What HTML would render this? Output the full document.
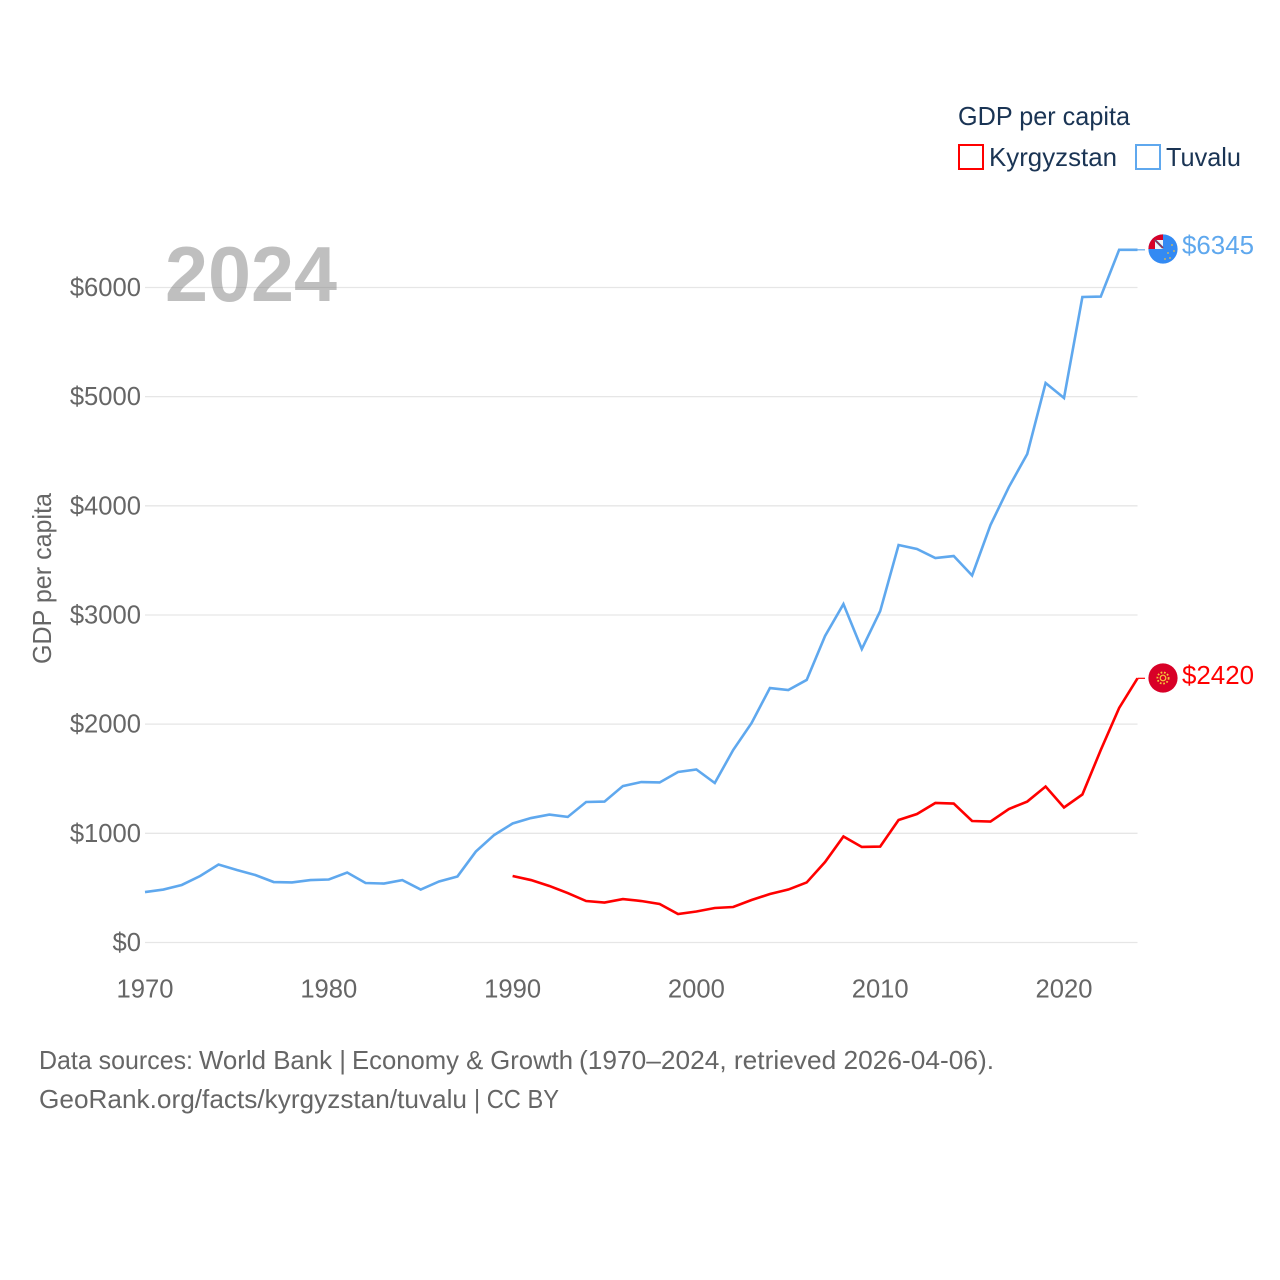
<!DOCTYPE html>
<html lang="en">
<head>
<meta charset="utf-8">
<title>GDP per capita: Kyrgyzstan and Tuvalu</title>
<style>
html,body{margin:0;padding:0;background:#fff;width:1280px;height:1280px;overflow:hidden}
svg{display:block;font-family:"Liberation Sans",sans-serif}
</style>
</head>
<body>
<svg id="chart" width="1280" height="1280" viewBox="0 0 1280 1280" xmlns="http://www.w3.org/2000/svg">
  <rect width="1280" height="1280" fill="#fff"/>
  <g id="grid"></g>
  <g id="yticks"></g>
  <g id="xticks"></g>
  <text x="165" y="301" font-size="78" font-weight="700" fill="#808080" fill-opacity="0.5" textLength="172" lengthAdjust="spacingAndGlyphs">2024</text>
  <text transform="translate(51,664) rotate(-90)" font-size="25.6" fill="#666" textLength="171" lengthAdjust="spacingAndGlyphs">GDP per capita</text>
  <g id="series"></g>

  <g>
    <clipPath id="tv-clip"><circle cx="1163" cy="249" r="14.6"/></clipPath>
    <g clip-path="url(#tv-clip)">
      <rect x="1148" y="234" width="30" height="30" fill="#338af3"/>
      <rect x="1148" y="234" width="15" height="15" fill="#d80027"/>
      <rect x="1155" y="240" width="8" height="9" fill="#eef3f8"/>
      <path d="M1155 240 L1163 248" stroke="#3f6f9c" stroke-width="2.2"/>
      <path d="M1155 240 L1163 248" stroke="#d80027" stroke-width="0.8"/>
      <g fill="#e8c04a">
        <circle cx="1172" cy="245" r="0.9"/><circle cx="1174" cy="251" r="0.9"/>
        <circle cx="1168" cy="253" r="0.9"/><circle cx="1170" cy="258" r="0.9"/>
        <circle cx="1165" cy="259" r="0.9"/>
      </g>
    </g>
  </g>
  <g>
    <circle cx="1163" cy="678" r="14.6" fill="#d80027"/>
    <circle cx="1163" cy="678" r="2.8" fill="none" stroke="#f5c93a" stroke-width="1.2"/>
    <circle cx="1163" cy="678" r="5.6" fill="none" stroke="#f5c93a" stroke-width="1.8" stroke-dasharray="1.7 1.7"/>
  </g>

  <text x="1182" y="254" font-size="25.6" fill="#5fa8ee" textLength="72" lengthAdjust="spacingAndGlyphs">$6345</text>
  <text x="1182" y="684" font-size="25.6" fill="#ff0000" textLength="72" lengthAdjust="spacingAndGlyphs">$2420</text>

  <g>
    <text x="958" y="125" font-size="25.6" fill="#1a3454" textLength="172" lengthAdjust="spacingAndGlyphs">GDP per capita</text>
    <g>
      <rect x="959" y="145" width="24" height="24" fill="#fff" stroke="#ff0000" stroke-width="2"/>
      <text x="989" y="166" font-size="25.6" fill="#1a3454" textLength="128" lengthAdjust="spacingAndGlyphs">Kyrgyzstan</text>
    </g>
    <g>
      <rect x="1136" y="145" width="24" height="24" fill="#fff" stroke="#5fa8ee" stroke-width="2"/>
      <text x="1166" y="166" font-size="25.6" fill="#1a3454" textLength="75" lengthAdjust="spacingAndGlyphs">Tuvalu</text>
    </g>
  </g>

  <text y="1069" font-size="25.6" fill="#666"><tspan x="39" textLength="154" lengthAdjust="spacingAndGlyphs">Data sources:</tspan> <tspan x="199" textLength="147" lengthAdjust="spacingAndGlyphs">World Bank |</tspan> <tspan x="352" textLength="221" lengthAdjust="spacingAndGlyphs">Economy &amp; Growth</tspan> <tspan x="579" textLength="415" lengthAdjust="spacingAndGlyphs">(1970–2024, retrieved 2026-04-06).</tspan></text>
  <text y="1108" font-size="25.6" fill="#666"><tspan x="39" textLength="428" lengthAdjust="spacingAndGlyphs">GeoRank.org/facts/kyrgyzstan/tuvalu</tspan> <tspan x="474" textLength="85" lengthAdjust="spacingAndGlyphs">| CC BY</tspan></text>
</svg>
<script>
var yearStart = 1970;
var yearTicks = [1970, 1980, 1990, 2000, 2010, 2020];
var valueTicks = [0, 1000, 2000, 3000, 4000, 5000, 6000];
var tuvaluValues = [462, 485, 527, 609, 714, 664, 618, 554, 550, 572, 577, 641, 545, 540, 572, 485, 559, 605, 833, 985, 1090, 1140, 1172, 1150, 1287, 1291, 1433, 1470, 1466, 1562, 1585, 1461, 1763, 2010, 2331, 2313, 2405, 2808, 3100, 2688, 3036, 3641, 3605, 3522, 3540, 3362, 3824, 4172, 4475, 5125, 4988, 5913, 5917, 6345, 6345];
var kyrgyzstanStartYear = 1990;
var kyrgyzstanValues = [609, 572, 518, 453, 380, 366, 398, 380, 353, 261, 284, 316, 325, 389, 444, 485, 550, 737, 971, 875, 879, 1122, 1177, 1278, 1273, 1113, 1108, 1223, 1291, 1429, 1237, 1356, 1763, 2148, 2420];

var NS = 'http://www.w3.org/2000/svg';
function xScale(year) { return 145 + (year - 1970) * 18.38; }
function yScale(value) { return 942.5 - value * 0.10917; }
function make(tag, parent, attrs) {
  var el = document.createElementNS(NS, tag);
  for (var k in attrs) el.setAttribute(k, attrs[k]);
  parent.appendChild(el);
  return el;
}

var grid = document.getElementById('grid');
var yticks = document.getElementById('yticks');
var xticks = document.getElementById('xticks');
var series = document.getElementById('series');

valueTicks.forEach(function (v) {
  var line = make('line', grid, { x1: xScale(1970), x2: xScale(2024), y1: yScale(v), y2: yScale(v), stroke: '#e6e6e6', 'stroke-width': 1.3 });
  
  
  var label = make('text', yticks, { x: 141, y: yScale(v) + 8.5, 'font-size': 25.6, fill: '#666', 'text-anchor': 'end' });
  
  
  label.textContent = '$' + v;
});

yearTicks.forEach(function (y) {
  var label = make('text', xticks, { x: xScale(y), y: 997.5, 'font-size': 25.6, fill: '#666', 'text-anchor': 'middle' });
  
  
  label.textContent = y;
});

function points(values, startYear) {
  return values.map(function (v, i) {
    return xScale(startYear + i).toFixed(2) + ',' + yScale(v).toFixed(2);
  }).join(' ');
}

var tuvaluLine = make('polyline', series, { points: points(tuvaluValues, yearStart), fill: 'none', stroke: '#5fa8ee', 'stroke-width': 2.6, 'stroke-linejoin': 'miter' });



var kyrgyzstanLine = make('polyline', series, { points: points(kyrgyzstanValues, kyrgyzstanStartYear), fill: 'none', stroke: '#ff0000', 'stroke-width': 2.6, 'stroke-linejoin': 'miter' });



var tuvaluLast = tuvaluValues[tuvaluValues.length - 1];
var tuvaluConnector = make('line', series, { x1: xScale(2024), x2: 1145, y1: yScale(tuvaluLast), y2: yScale(tuvaluLast), stroke: '#5fa8ee', 'stroke-width': 1.2 });



var kyrgyzstanLast = kyrgyzstanValues[kyrgyzstanValues.length - 1];
var kyrgyzstanConnector = make('line', series, { x1: xScale(2024), x2: 1145, y1: yScale(kyrgyzstanLast), y2: yScale(kyrgyzstanLast), stroke: '#ff0000', 'stroke-width': 1.2 });


</script>
</body>
</html>
